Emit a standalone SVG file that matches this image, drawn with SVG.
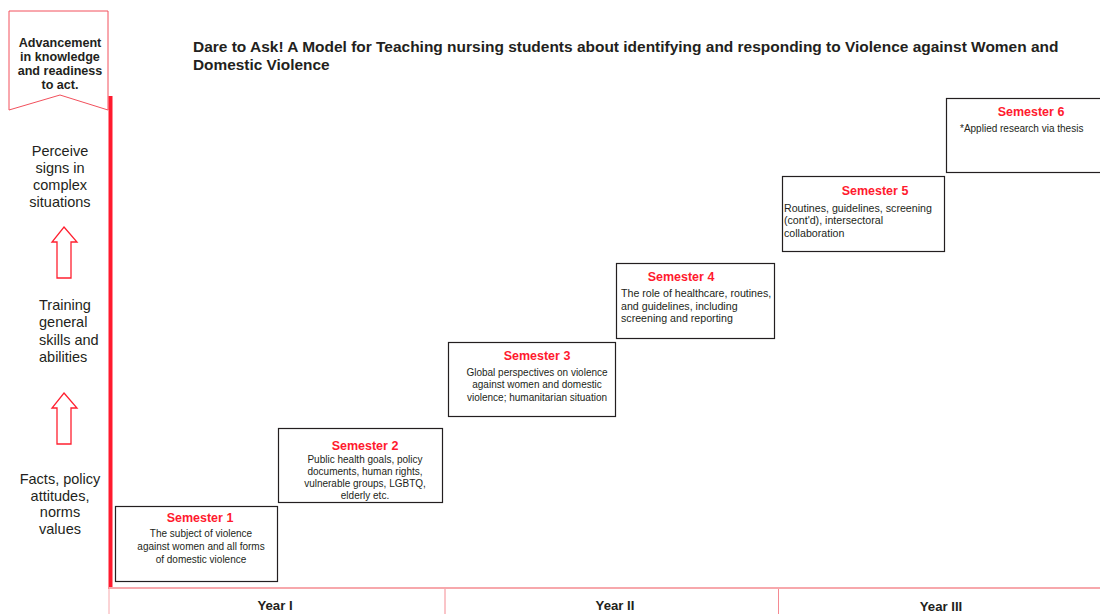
<svg xmlns="http://www.w3.org/2000/svg" width="1100" height="614" viewBox="0 0 1100 614">
<style>
text{font-family:"Liberation Sans",Arial,sans-serif;fill:#231F20}
.box{fill:#fff;stroke:#231F20;stroke-width:1.2}
.sem{font-size:12.5px;font-weight:bold;fill:#FF1A2E}
.body{font-size:10px}
.wide{font-size:10.65px}
.lbl{font-size:14.5px}
.yr{font-size:13.2px;font-weight:bold;text-anchor:middle}
.arr{fill:#fff;stroke:#FF2030;stroke-width:1.3}
.pink{stroke:#F7A8AC;fill:none}
</style>
<rect width="1100" height="614" fill="#fff"/>
<g id="title">
<text x="193" y="52" font-size="15.47" font-weight="bold">Dare to Ask! A Model for Teaching nursing students about identifying and responding to Violence against Women and</text>
<text x="193" y="70" font-size="15.4" font-weight="bold">Domestic Violence</text>
</g>
<g id="banner">
<path d="M9,11 H108 V110 L60,95 L9,110 Z" fill="#fff" stroke="#F2505C" stroke-width="1"/>
<text x="60" y="47" font-size="12.6" font-weight="bold" text-anchor="middle">Advancement</text>
<text x="60" y="61" font-size="12.6" font-weight="bold" text-anchor="middle">in knowledge</text>
<text x="60" y="75" font-size="12.6" font-weight="bold" text-anchor="middle">and readiness</text>
<text x="60" y="89" font-size="12.6" font-weight="bold" text-anchor="middle">to act.</text>
</g>
<g id="axis">
<line x1="110.5" y1="96" x2="110.5" y2="589" stroke="#FF1A2E" stroke-width="4"/>
<line class="pink" x1="109" y1="588" x2="1100" y2="588" stroke-width="2"/>
<line x1="109" y1="589" x2="109" y2="614" stroke="#F7A8AC" stroke-width="1"/>
<line x1="445" y1="589" x2="445" y2="614" stroke="#F58A92" stroke-width="1"/>
<line x1="778.5" y1="589" x2="778.5" y2="614" stroke="#F58A92" stroke-width="1"/>
</g>
<g id="level3">
<text class="lbl" x="60" y="156" text-anchor="middle">Perceive</text>
<text class="lbl" x="60" y="173" text-anchor="middle">signs in</text>
<text class="lbl" x="60" y="190" text-anchor="middle">complex</text>
<text class="lbl" x="60" y="207" text-anchor="middle">situations</text>
</g>
<g id="arrow1"><path class="arr" d="M64,227 L77,242 H71 V278 H57 V242 H52 Z"/></g>
<g id="level2">
<text class="lbl" x="39" y="310">Training</text>
<text class="lbl" x="39" y="327">general</text>
<text class="lbl" x="39" y="345">skills and</text>
<text class="lbl" x="39" y="362">abilities</text>
</g>
<g id="arrow2"><path class="arr" d="M64,393 L77,408 H71 V444 H57 V408 H52 Z"/></g>
<g id="level1">
<text class="lbl" x="60" y="484" text-anchor="middle">Facts, policy</text>
<text class="lbl" x="60" y="501" text-anchor="middle">attitudes,</text>
<text class="lbl" x="60" y="517" text-anchor="middle">norms</text>
<text class="lbl" x="60" y="534" text-anchor="middle">values</text>
</g>
<g id="sem1">
<rect class="box" x="115.5" y="506.5" width="162" height="75"/>
<text class="sem" x="200" y="522" text-anchor="middle">Semester 1</text>
<text class="body" x="201" y="537" text-anchor="middle">The subject of violence</text>
<text class="body" x="201" y="550" text-anchor="middle">against women and all forms</text>
<text class="body" x="201" y="563" text-anchor="middle">of domestic violence</text>
</g>
<g id="sem2">
<rect class="box" x="278.5" y="428.5" width="164" height="74"/>
<text class="sem" x="365" y="450" text-anchor="middle">Semester 2</text>
<text class="body" x="365" y="463" text-anchor="middle">Public health goals, policy</text>
<text class="body" x="365" y="475" text-anchor="middle">documents, human rights,</text>
<text class="body" x="365" y="487" text-anchor="middle">vulnerable groups, LGBTQ,</text>
<text class="body" x="365" y="499" text-anchor="middle">elderly etc.</text>
</g>
<g id="sem3">
<rect class="box" x="448.5" y="342.5" width="167" height="74"/>
<text class="sem" x="537" y="360" text-anchor="middle">Semester 3</text>
<text class="body" x="537" y="376" text-anchor="middle">Global perspectives on violence</text>
<text class="body" x="537" y="388" text-anchor="middle">against women and domestic</text>
<text class="body" x="537" y="401" text-anchor="middle">violence; humanitarian situation</text>
</g>
<g id="sem4">
<rect class="box" x="616.5" y="263.5" width="158" height="75"/>
<text class="sem" x="681" y="281" text-anchor="middle">Semester 4</text>
<text class="wide" x="621" y="297">The role of healthcare, routines,</text>
<text class="wide" x="621" y="310">and guidelines, including</text>
<text class="wide" x="621" y="322">screening and reporting</text>
</g>
<g id="sem5">
<rect class="box" x="782.5" y="176.5" width="162" height="75"/>
<text class="sem" x="875" y="195" text-anchor="middle">Semester 5</text>
<text class="wide" x="784" y="212">Routines, guidelines, screening</text>
<text class="wide" x="784" y="224">(cont'd), intersectoral</text>
<text class="wide" x="784" y="237">collaboration</text>
</g>
<g id="sem6">
<rect class="box" x="946.5" y="98.5" width="160" height="74"/>
<text class="sem" x="1031" y="116" text-anchor="middle">Semester 6</text>
<text class="body" x="960" y="132">*Applied research via thesis</text>
</g>
<g id="years">
<text class="yr" x="275" y="610">Year I</text>
<text class="yr" x="615" y="610">Year II</text>
<text class="yr" x="941" y="611">Year III</text>
</g>
</svg>
